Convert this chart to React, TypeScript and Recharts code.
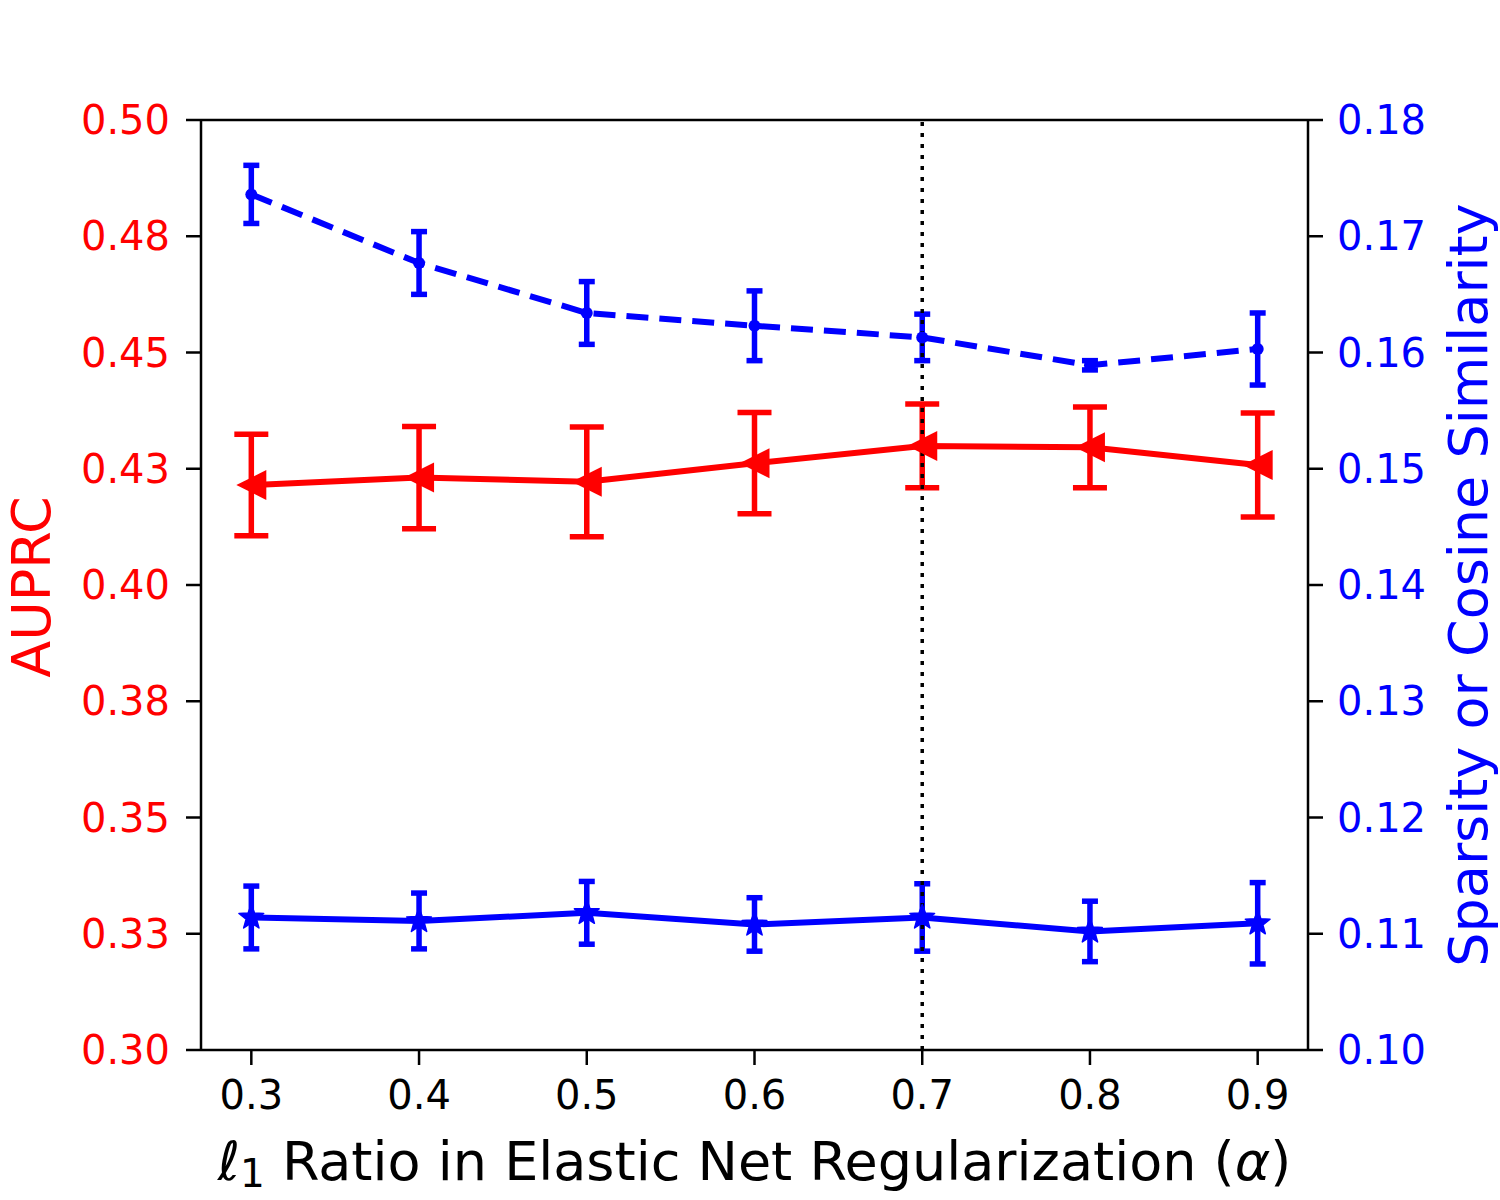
import { ComposedChart, Line, XAxis, YAxis, ErrorBar, ReferenceLine } from "recharts";

// values
const ALPHAS = [0.3, 0.4, 0.5, 0.6, 0.7, 0.8, 0.9];
const X_LABELS = ["0.3", "0.4", "0.5", "0.6", "0.7", "0.8", "0.9"];

const AUPRC = [0.4215, 0.4231, 0.4222, 0.4262, 0.4299, 0.4296, 0.4258];
const AUPRC_ERR = [0.0109, 0.011, 0.0118, 0.0109, 0.009, 0.0087, 0.0112];

const DASHED = [0.1736, 0.1677, 0.1634, 0.1623, 0.1613, 0.1589, 0.1603];
const DASHED_ERR = [0.0025, 0.0027, 0.0027, 0.003, 0.002, 0.0004, 0.0031];

const SOLID = [0.1114, 0.1111, 0.1118, 0.1108, 0.1114, 0.1102, 0.1109];
const SOLID_ERR = [0.0027, 0.0024, 0.0027, 0.0023, 0.0029, 0.0026, 0.0035];

const LEFT_TICKS = [0.3, 0.325, 0.35, 0.375, 0.4, 0.425, 0.45, 0.475, 0.5];
const LEFT_LABELS = ["0.30", "0.33", "0.35", "0.38", "0.40", "0.43", "0.45", "0.48", "0.50"];
const RIGHT_TICKS = [0.1, 0.11, 0.12, 0.13, 0.14, 0.15, 0.16, 0.17, 0.18];
const RIGHT_LABELS = ["0.10", "0.11", "0.12", "0.13", "0.14", "0.15", "0.16", "0.17", "0.18"];

const data = ALPHAS.map((a, i) => ({
  alpha: a,
  auprc: AUPRC[i],
  auprcErr: AUPRC_ERR[i],
  dashed: DASHED[i],
  dashedErr: DASHED_ERR[i],
  solid: SOLID[i],
  solidErr: SOLID_ERR[i],
}));

const W = 1500;
const H = 1200;
const LEFT = 201;
const TOP = 120;
const RIGHT = 1308;
const BOTTOM = 1050;
const FONT = "DejaVu Sans";
const RED = "#ff0000";
const BLUE = "#0000ff";

const tickFont = { fontSize: 40, fontFamily: FONT };

function TriLeft(p: any) {
  const { cx, cy } = p;
  if (cx == null || cy == null) return null;
  const s = 15;
  return <polygon points={`${cx - s},${cy} ${cx + s},${cy - s} ${cx + s},${cy + s}`} fill={RED} />;
}

function SmallDot(p: any) {
  const { cx, cy } = p;
  if (cx == null || cy == null) return null;
  return <circle cx={cx} cy={cy} r={6} fill={BLUE} />;
}

function Star(p: any) {
  const { cx, cy } = p;
  if (cx == null || cy == null) return null;
  const R = 13;
  const r = R * 0.42;
  const pts: string[] = [];
  for (let k = 0; k < 10; k++) {
    const rad = k % 2 === 0 ? R : r;
    const ang = -Math.PI / 2 + (k * Math.PI) / 5;
    pts.push(`${cx + rad * Math.cos(ang)},${cy + rad * Math.sin(ang)}`);
  }
  return <polygon points={pts.join(" ")} fill={BLUE} stroke={BLUE} strokeWidth={1.5} strokeLinejoin="round" />;
}

function XTitle() {
  return (
    <text x={(LEFT + RIGHT) / 2} y={1180} textAnchor="middle" fontSize={54} fill="#000" fontFamily={FONT}>
      <tspan fontStyle="italic">ℓ</tspan>
      <tspan fontSize={39} dy={7}>1</tspan>
      <tspan dy={-7}> Ratio in Elastic Net Regularization (</tspan>
      <tspan fontStyle="italic">α</tspan>
      <tspan>)</tspan>
    </text>
  );
}

function LeftTitle() {
  const x = 50;
  const y = (TOP + BOTTOM) / 2 + 2;
  return (
    <text x={x} y={y} transform={`rotate(-90 ${x} ${y})`} textAnchor="middle" fontSize={54} fill={RED} fontFamily={FONT}>
      AUPRC
    </text>
  );
}

function RightTitle() {
  const x = 1487;
  const y = (TOP + BOTTOM) / 2;
  return (
    <text x={x} y={y} transform={`rotate(-90 ${x} ${y})`} textAnchor="middle" fontSize={54} fill={BLUE} fontFamily={FONT}>
      Sparsity or Cosine Similarity
    </text>
  );
}

export default function App() {
  return (
    <div style={{ position: "absolute", left: 0, top: 0, width: W, height: H, background: "#fff" }}>
      <ComposedChart
        width={W}
        height={H}
        data={data}
        margin={{ top: TOP, right: 0, bottom: 0, left: 0 }}
        style={{ fontFamily: FONT }}
      >
        <XAxis
          dataKey="alpha"
          type="number"
          domain={[0.27, 0.93]}
          ticks={ALPHAS}
          tickFormatter={(v, i) => X_LABELS[i] ?? String(v)}
          height={H - BOTTOM}
          tick={{ ...tickFont, fill: "#000" }}
          tickSize={15}
          tickMargin={16}
          axisLine={{ stroke: "#000", strokeWidth: 2.5 }}
          tickLine={{ stroke: "#000", strokeWidth: 2.5 }}
          label={<XTitle />}
        />
        <YAxis
          yAxisId="l"
          orientation="left"
          domain={[0.3, 0.5]}
          ticks={LEFT_TICKS}
          tickFormatter={(v, i) => LEFT_LABELS[i] ?? String(v)}
          width={LEFT}
          tick={{ ...tickFont, fill: RED }}
          tickSize={15}
          tickMargin={16}
          axisLine={{ stroke: "#000", strokeWidth: 2.5 }}
          tickLine={{ stroke: "#000", strokeWidth: 2.5 }}
          label={<LeftTitle />}
        />
        <YAxis
          yAxisId="r"
          orientation="right"
          domain={[0.1, 0.18]}
          ticks={RIGHT_TICKS}
          tickFormatter={(v, i) => RIGHT_LABELS[i] ?? String(v)}
          width={W - RIGHT}
          tick={{ ...tickFont, fill: BLUE }}
          tickSize={15}
          tickMargin={14}
          axisLine={{ stroke: "#000", strokeWidth: 2.5 }}
          tickLine={{ stroke: "#000", strokeWidth: 2.5 }}
          label={<RightTitle />}
        />
        <ReferenceLine yAxisId="l" y={0.5} stroke="#000" strokeWidth={2.5} />
        <Line
          yAxisId="l"
          dataKey="auprc"
          type="linear"
          stroke={RED}
          strokeWidth={6}
          dot={(p: any) => <TriLeft key={`t${p.index}`} {...p} />}
          activeDot={false}
          isAnimationActive={false}
        >
          <ErrorBar dataKey="auprcErr" direction="y" width={17} stroke={RED} strokeWidth={5.5} isAnimationActive={false} />
        </Line>
        <Line
          yAxisId="r"
          dataKey="dashed"
          type="linear"
          stroke={BLUE}
          strokeWidth={6}
          strokeDasharray="22 11"
          dot={(p: any) => <SmallDot key={`d${p.index}`} {...p} />}
          activeDot={false}
          isAnimationActive={false}
        >
          <ErrorBar dataKey="dashedErr" direction="y" width={8} stroke={BLUE} strokeWidth={5.5} isAnimationActive={false} />
        </Line>
        <Line
          yAxisId="r"
          dataKey="solid"
          type="linear"
          stroke={BLUE}
          strokeWidth={6}
          dot={(p: any) => <Star key={`s${p.index}`} {...p} />}
          activeDot={false}
          isAnimationActive={false}
        >
          <ErrorBar dataKey="solidErr" direction="y" width={8} stroke={BLUE} strokeWidth={5.5} isAnimationActive={false} />
        </Line>
        <ReferenceLine yAxisId="l" x={0.7} stroke="#000" strokeWidth={3.5} strokeDasharray="4 7" />
      </ComposedChart>
    </div>
  );
}
